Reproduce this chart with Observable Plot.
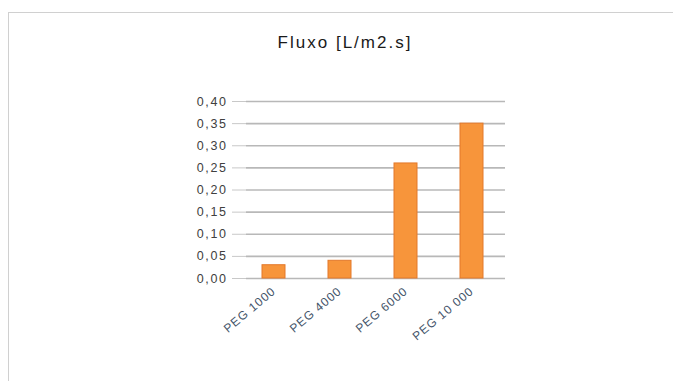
<!DOCTYPE html>
<html>
<head>
<meta charset="utf-8">
<script src="https://cdn.jsdelivr.net/npm/d3@7"></script>
<script src="https://cdn.jsdelivr.net/npm/@observablehq/plot@0.6"></script>
<style>
  html, body { margin: 0; padding: 0; background: #fff; }
  #wrap { position: relative; width: 673px; height: 381px; overflow: hidden; }
  #frame { position: absolute; left: 8px; top: 12px; width: 700px; height: 400px;
           border-top: 1px solid #d0d0d0; border-left: 1px solid #d0d0d0; }
  #title { position: absolute; left: 0; width: 690px; top: 33px; text-align: center;
           font-family: "Liberation Sans", Arial, sans-serif; font-size: 17px; letter-spacing: 2px; color: #1a1a1a; }
  #chart { position: absolute; left: 0; top: 0; }
  #chart g[aria-label="y-axis tick label"] text { letter-spacing: 1.6px; }
  #chart g[aria-label="x-axis tick label"] text { letter-spacing: 1px; }
</style>
</head>
<body>
<div id="wrap">
  <div id="frame"></div>
  <div id="title">Fluxo [L/m2.s]</div>
  <div id="chart"></div>
</div>
<script>
const categories = ["PEG 1000", "PEG 4000", "PEG 6000", "PEG 10 000"];
const values = [0.03, 0.04, 0.26, 0.35];
const yTicks = [0, 0.05, 0.10, 0.15, 0.20, 0.25, 0.30, 0.35, 0.40];

const data = categories.map((c, i) => ({category: c, value: values[i]}));
const fmt = d => d.toFixed(2).replace(".", ",");

const chart = Plot.plot({
  width: 673,
  height: 381,
  marginLeft: 246,
  marginRight: 168,
  marginTop: 101,
  marginBottom: 103,
  style: {background: "transparent", fontFamily: "Liberation Sans, Arial, sans-serif", color: "#595959"},
  x: {domain: categories, paddingInner: 0.65, paddingOuter: 0.28, align: 0.42, label: null},
  y: {domain: [0, 0.4], label: null},
  marks: [
    Plot.gridY(yTicks, {stroke: "#b8b8b8", strokeOpacity: 1, strokeWidth: 1.6}),
    Plot.axisY(yTicks, {tickFormat: fmt, tickSize: 14, tickPadding: 5, stroke: "#c8c8c8", fontSize: 12.5, fill: "#404040", label: null}),
    Plot.barY(data, {x: "category", y: "value", fill: "#f7953b", stroke: "#e3782a", strokeWidth: 1}),
    Plot.axisX({tickSize: 0, tickPadding: 11, tickRotate: -40, fontSize: 12, fill: "#44546a", label: null})
  ]
});
document.getElementById("chart").appendChild(chart);
</script>
</body>
</html>
